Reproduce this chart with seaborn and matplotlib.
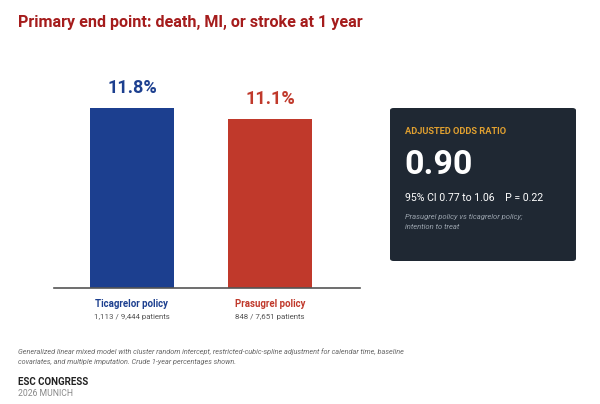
import matplotlib
matplotlib.use("Agg")
import matplotlib.pyplot as plt
import seaborn as sns
import pandas as pd
from matplotlib.patches import FancyBboxPatch

# data
groups = ["Ticagrelor policy", "Prasugrel policy"]
rates = [11.8, 11.1]
counts = ["1,113 / 9,444 patients", "848 / 7,651 patients"]
bar_colors = ["#1c3f8f", "#c0392b"]

odds_ratio = "0.90"
ci_text = "95% CI 0.77 to 1.06    P = 0.22"

sns.set_style("white")
plt.rcParams["font.family"] = ["Roboto", "DejaVu Sans"]

fig = plt.figure(figsize=(6, 4.04), dpi=100)
ax = fig.add_axes([0.09, 0.2871, 0.51, 0.5663])

df = pd.DataFrame({"group": groups, "rate": rates})
sns.barplot(data=df, x="group", y="rate", hue="group", palette=bar_colors,
            width=0.61, saturation=1, legend=False, linewidth=0, ax=ax)

ax.set_ylim(0, 15)
ax.set_xlim(-0.565, 1.652)
ax.set_xlabel("")
ax.set_ylabel("")
ax.set_xticks([])
ax.set_yticks([])
for s in ["top", "right", "left"]:
    ax.spines[s].set_visible(False)
ax.spines["bottom"].set_color("#555555")
ax.spines["bottom"].set_linewidth(1.2)

for i, (r, c) in enumerate(zip(rates, bar_colors)):
    ax.annotate(f"{r}%", (i, r), xytext=(0, 8), textcoords="offset points",
                ha="center", va="bottom", fontsize=13, fontweight="bold", color=c)
    ax.annotate(groups[i], (i, 0), xytext=(0, -11.5), textcoords="offset points",
                ha="center", va="center", fontsize=6.9, fontweight="bold", color=c)
    ax.annotate(counts[i], (i, 0), xytext=(0, -21), textcoords="offset points",
                ha="center", va="center", fontsize=5.7, color="#555555")

fig.text(18 / 600, 1 - 22 / 404, "Primary end point: death, MI, or stroke at 1 year",
         fontsize=11.6, fontweight="bold", color="#a51c1c", va="center", ha="left")

# odds ratio card
box = FancyBboxPatch((390 / 600, 1 - 261 / 404), 186 / 600, 153 / 404,
                     boxstyle="round,pad=0,rounding_size=0.006",
                     transform=fig.transFigure, facecolor="#1f2833",
                     edgecolor="none")
fig.patches.append(box)
fig.text(405 / 600, 1 - 131 / 404, "ADJUSTED ODDS RATIO", fontsize=6.7,
         fontweight="bold", color="#e0a030", va="center", ha="left")
fig.text(404 / 600, 1 - 165 / 404, odds_ratio, fontsize=24.5,
         fontweight="bold", color="white", va="center", ha="left")
fig.text(405 / 600, 1 - 198 / 404, ci_text, fontsize=7.6,
         color="white", va="center", ha="left")
fig.text(405 / 600, 1 - 217 / 404, "Prasugrel policy vs ticagrelor policy;",
         fontsize=5.5, style="italic", color="#9aa3ad", va="center", ha="left")
fig.text(405 / 600, 1 - 227 / 404, "intention to treat",
         fontsize=5.5, style="italic", color="#9aa3ad", va="center", ha="left")

fig.text(18 / 600, 1 - 352 / 404,
         "Generalized linear mixed model with cluster random intercept, "
         "restricted-cubic-spline adjustment for calendar time, baseline",
         fontsize=5.2, style="italic", color="#666666", va="center", ha="left")
fig.text(18 / 600, 1 - 362 / 404,
         "covariates, and multiple imputation. Crude 1-year percentages shown.",
         fontsize=5.2, style="italic", color="#666666", va="center", ha="left")
fig.text(18 / 600, 1 - 382 / 404, "ESC CONGRESS", fontsize=7,
         fontweight="bold", color="#222222", va="center", ha="left")
fig.text(18 / 600, 1 - 393 / 404, "2026 MUNICH", fontsize=6.2,
         color="#888888", va="center", ha="left")

fig.savefig("out.png", dpi=100)
